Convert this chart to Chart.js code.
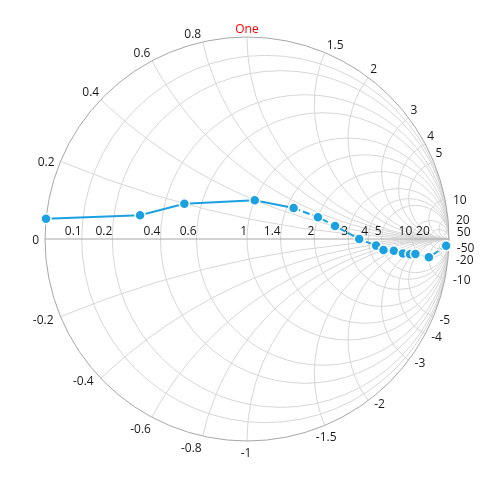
<!DOCTYPE html>
<html>
<head>
<meta charset="utf-8">
<script src="https://cdn.jsdelivr.net/npm/chart.js@4"></script>
<style>
  body { margin: 0; background: #fff; }
</style>
</head>
<body>
<canvas id="smith" width="497" height="481"></canvas>
<script>
// grid values
const resistanceTicks = [0.1, 0.2, 0.4, 0.6, 1, 1.4, 2, 3, 4, 5, 10, 20];
const reactanceTicks = [0.2, 0.4, 0.6, 0.8, 1, 1.5, 2, 3, 4, 5, 10, 20, 50];

// series (impedance points)
const resistance = [0, 0.3, 0.5, 1.0, 1.5, 2.0, 2.5, 3.5, 4.5, 5.0, 6, 7, 8, 9, 10, 20];
const reactance = [0.05, 0.1, 0.2, 0.4, 0.5, 0.5, 0.4, 0, -0.5, -1.0, -1.5, -2.5, -3.5, -4.5, -10, -50];

// z -> reflection coefficient
function toGamma(r, x) {
    const d = (r + 1) * (r + 1) + x * x;
    return { x: (r * r + x * x - 1) / d, y: 2 * x / d };
}

const points = resistance.map((r, i) => toGamma(r, reactance[i]));

// where a rim label goes, relative to the point where its arc meets the rim
function rimLabelPos(px, py, dx, dy) {
    // dx, dy: screen direction from centre
    const ady = Math.abs(dy);
    if (Math.abs(dx) < 0.01) {
        return dy < 0 ? { x: px, align: 'center', base: py - 4.5 }
                      : { x: px - 1, align: 'center', base: py + 16 };
    }
    if (dy <= 0) { // upper half
        if (dx > 0) {
            return ady < 0.3 ? { x: px + 8, align: 'left', base: py + 5 }
                             : { x: px + 2, align: 'left', base: py - 4 };
        }
        return ady < 0.4 ? { x: px - 6, align: 'right', base: py + 5 }
                         : { x: px - 1.5, align: 'right', base: py - 4 };
    }
    if (dx > 0) {
        if (ady < 0.3) return { x: px + 8, align: 'left', base: py + 5 };
        if (ady < 0.9) return { x: px + 6, align: 'left', base: py + 7 };
        return { x: px + 1.5, align: 'center', base: py + 16 };
    }
    return ady < 0.8 ? { x: px - 7, align: 'right', base: py + 7 }
                     : { x: px - 1, align: 'right', base: py + 16 };
}

const smithGrid = {
    id: 'smithGrid',
    beforeDatasetsDraw(chart) {
        const { ctx, scales: { x, y } } = chart;
        const px = v => x.getPixelForValue(v);
        const py = v => y.getPixelForValue(v);
        const cx = px(0), cy = py(0), R = px(1) - px(0);

        ctx.save();
        ctx.beginPath();
        ctx.arc(cx, cy, R, 0, Math.PI * 2);
        ctx.clip();
        ctx.strokeStyle = '#d6d6d6';
        ctx.lineWidth = 1;
        resistanceTicks.forEach(r => {
            const c = r / (r + 1);
            ctx.beginPath();
            ctx.arc(px(c), cy, R / (r + 1), 0, Math.PI * 2);
            ctx.stroke();
        });
        reactanceTicks.forEach(v => {
            [v, -v].forEach(xv => {
                ctx.beginPath();
                ctx.arc(px(1), py(1 / xv), R / v, 0, Math.PI * 2);
                ctx.stroke();
            });
        });
        ctx.restore();

        // real axis and outer circle
        ctx.save();
        ctx.strokeStyle = '#a6a6a6';
        ctx.lineWidth = 1;
        ctx.beginPath();
        ctx.moveTo(px(-1), cy);
        ctx.lineTo(px(1), cy);
        ctx.stroke();
        ctx.beginPath();
        ctx.arc(cx, cy, R, 0, Math.PI * 2);
        ctx.stroke();

        ctx.font = '12px "Open Sans", sans-serif';
        ctx.fillStyle = '#1a1a1a';
        ctx.textBaseline = 'alphabetic';

        // resistance labels along the axis
        ctx.textAlign = 'right';
        resistanceTicks.forEach(r => {
            ctx.fillText(String(r), px((r - 1) / (r + 1)), cy - 4);
        });
        ctx.fillText('0', px(-1) - 6, cy + 5);

        // reactance labels round the rim
        reactanceTicks.forEach(v => {
            [v, -v].forEach(xv => {
                const g = toGamma(0, xv);
                const label = xv === 1 ? 'One' : String(xv);
                const pos = rimLabelPos(px(g.x), py(g.y), g.x, -g.y);
                ctx.textAlign = pos.align;
                ctx.fillStyle = xv === 1 ? '#ff0000' : '#1a1a1a';
                ctx.fillText(label, pos.x, pos.base);
            });
        });
        ctx.restore();
    }
};

new Chart(document.getElementById('smith'), {
    type: 'scatter',
    data: {
        datasets: [{
            data: points,
            showLine: true,
            borderColor: '#1ba1e2',
            borderWidth: 2,
            backgroundColor: '#1ba1e2',
            pointBackgroundColor: '#1ba1e2',
            pointBorderColor: '#ffffff',
            pointBorderWidth: 1.5,
            pointRadius: 5,
            clip: false,
            segment: {
                borderDash: c => c.p0DataIndex >= 4 ? [7, 3] : undefined
            }
        }]
    },
    options: {
        responsive: false,
        animation: false,
        layout: { padding: { left: 45, right: 48, top: 37, bottom: 40 } },
        plugins: { legend: { display: false }, tooltip: { enabled: false } },
        scales: {
            x: { type: 'linear', min: -1, max: 1, display: false },
            y: { type: 'linear', min: -1, max: 1, display: false }
        }
    },
    plugins: [smithGrid]
});
</script>
</body>
</html>
